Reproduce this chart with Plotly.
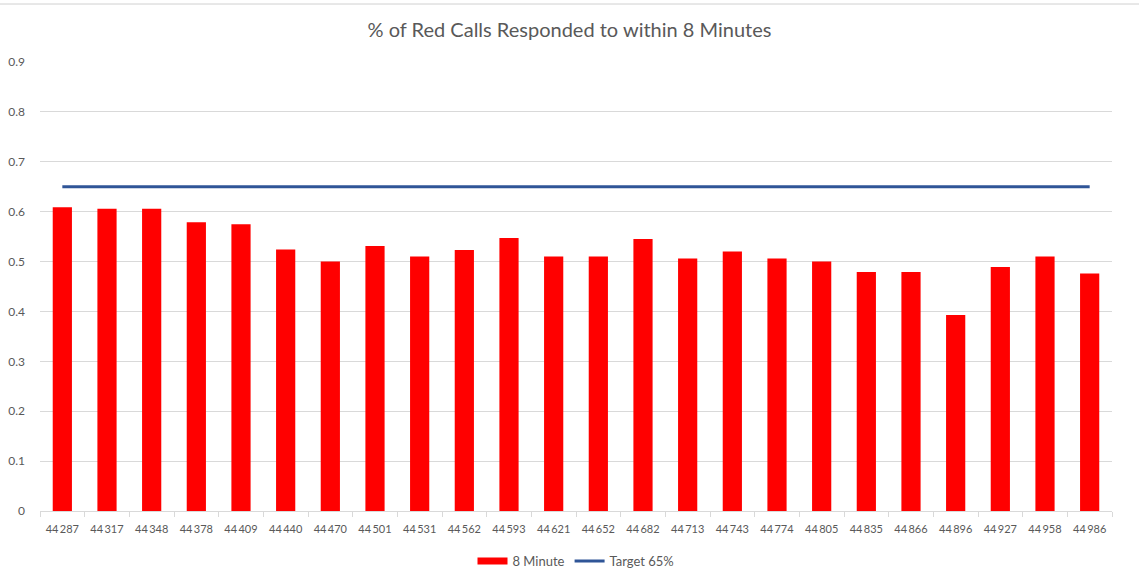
import plotly.graph_objects as go

categories = ["44\u2009287", "44\u2009317", "44\u2009348", "44\u2009378", "44\u2009409", "44\u2009440",
              "44\u2009470", "44\u2009501", "44\u2009531", "44\u2009562", "44\u2009593", "44\u2009621",
              "44\u2009652", "44\u2009682", "44\u2009713", "44\u2009743", "44\u2009774", "44\u2009805",
              "44\u2009835", "44\u2009866", "44\u2009896", "44\u2009927", "44\u2009958", "44\u2009986"]
minute8 = [0.609, 0.606, 0.606, 0.579, 0.575, 0.524, 0.500, 0.531, 0.510, 0.523, 0.547, 0.510,
           0.510, 0.545, 0.506, 0.520, 0.506, 0.500, 0.479, 0.479, 0.393, 0.489, 0.510, 0.476]
target = [0.65] * len(categories)
y_ticks = [0, 0.1, 0.2, 0.3, 0.4, 0.5, 0.6, 0.7, 0.8, 0.9]

font = "Lato, 'Open Sans', sans-serif"
grey = "#595959"
red = "#FF0000"

fig = go.Figure()
fig.add_trace(go.Bar(x=categories, y=minute8, name="8 Minute", showlegend=False,
                     marker=dict(color=red, line=dict(width=0))))
# legend swatch for the bars (wide rectangle like Excel)
fig.add_trace(go.Scatter(x=[None], y=[None], name="8 Minute", mode="lines",
                         line=dict(color=red, width=7)))
fig.add_trace(go.Scatter(x=categories, y=target, name="Target 65%", mode="lines",
                         line=dict(color="#2F5597", width=3)))

fig.update_layout(
    width=1139, height=571,
    margin=dict(l=40, r=27, t=62, b=60, autoexpand=False),
    paper_bgcolor="white", plot_bgcolor="white",
    bargap=0.57,
    title=dict(text="% of Red Calls Responded to within 8 Minutes", x=0.5, xanchor="center",
               y=1 - 30 / 571, yanchor="middle", font=dict(family=font, size=20, color=grey)),
    font=dict(family=font, size=12, color=grey),
    legend=dict(orientation="h", x=0.5, xanchor="center", y=-50 / 449, yanchor="middle",
                font=dict(size=13, color=grey), itemwidth=30, tracegroupgap=0),
    showlegend=True,
)
fig.update_xaxes(type="category", showline=True, linecolor="#d9d9d9", linewidth=1,
                 ticks="outside", tickson="boundaries", ticklen=5, tickcolor="#d9d9d9",
                 showgrid=False, tickangle=0, ticklabelstandoff=8,
                 tickfont=dict(size=11, color=grey))
fig.update_yaxes(range=[0, 0.9], tickvals=y_ticks, ticktext=[("%g" % v) for v in y_ticks],
                 showgrid=True, gridcolor="#d9d9d9", gridwidth=1, zeroline=False,
                 showline=False, tickfont=dict(size=12, color=grey), ticklabelstandoff=14)
fig.add_shape(type="line", xref="paper", yref="paper", x0=-40 / 1072, x1=1 + 27 / 1072,
              y0=1 + 58 / 449, y1=1 + 58 / 449, line=dict(color="#d0d0d0", width=1))

fig.write_html("out.html", config={"displayModeBar": False},
               post_script="document.body.style.margin='0';document.body.style.overflow='hidden';")
